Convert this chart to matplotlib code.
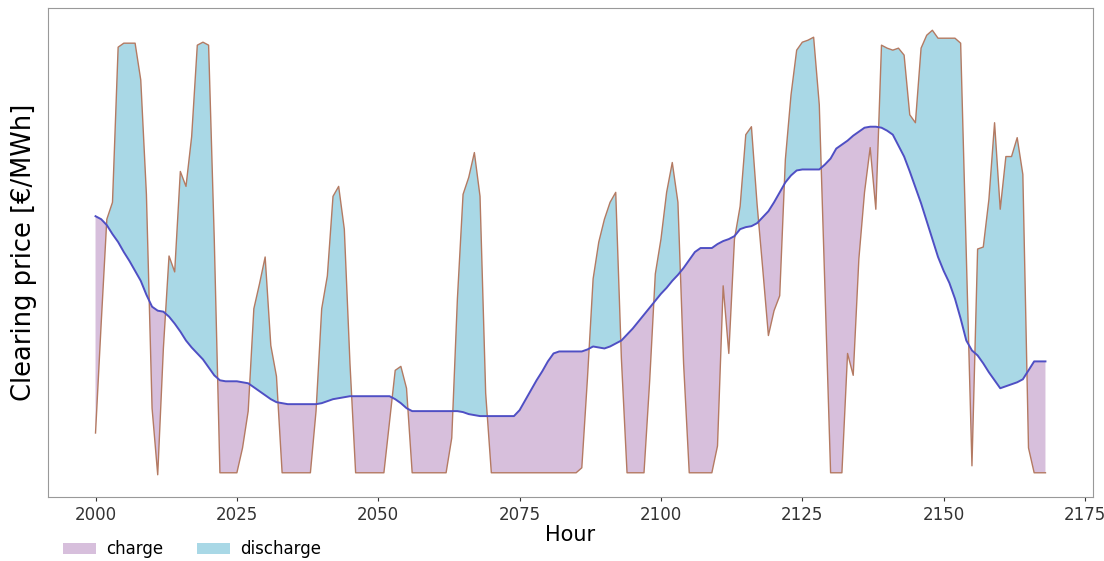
"""Clearing price vs. moving threshold, shaded by charge / discharge hours."""

import matplotlib

matplotlib.use("Agg")

import matplotlib.pyplot as plt
import numpy as np

HOUR_START = 2000
HOUR_END = 2168

# hourly clearing price (no y scale shown)
PRICE = [
    65, 175, 280, 297, 453, 457, 457, 457, 420, 305,
    90, 23, 150, 243, 227, 328, 313, 363, 455, 458,
    455, 260, 25, 25, 25, 25, 50, 87, 190, 215,
    242, 153, 122, 25, 25, 25, 25, 25, 25, 87,
    190, 223, 303, 313, 270, 135, 25, 25, 25, 25,
    25, 25, 76, 128, 132, 110, 25, 25, 25, 25,
    25, 25, 25, 60, 200, 305, 322, 347, 303, 105,
    25, 25, 25, 25, 25, 25, 25, 25, 25, 25,
    25, 25, 25, 25, 25, 25, 30, 120, 220, 257,
    280, 297, 307, 140, 25, 25, 25, 25, 117, 225,
    260, 307, 337, 297, 135, 25, 25, 25, 25, 25,
    52, 213, 145, 260, 293, 365, 373, 295, 230, 163,
    188, 203, 340, 405, 450, 458, 460, 463, 395, 210,
    25, 25, 25, 145, 123, 240, 307, 352, 290, 455,
    452, 450, 452, 445, 385, 377, 452, 465, 470, 462,
    462, 462, 462, 457, 245, 32, 250, 252, 300, 377,
    290, 343, 343, 362, 325, 50, 25, 25, 25,
]

# smoothed threshold price (blue line)
THRESHOLD = [
    283, 280, 274, 265, 257, 247, 238, 228, 218, 204,
    192, 188, 187, 182, 175, 167, 158, 151, 145, 139,
    131, 123, 118, 117, 117, 117, 116, 115, 111, 107,
    103, 99, 96, 95, 94, 94, 94, 94, 94, 94,
    95, 97, 99, 100, 101, 102, 102, 102, 102, 102,
    102, 102, 102, 99, 95, 90, 87, 87, 87, 87,
    87, 87, 87, 87, 87, 86, 84, 83, 82, 82,
    82, 82, 82, 82, 82, 88, 98, 108, 118, 127,
    137, 145, 147, 147, 147, 147, 147, 149, 152, 151,
    150, 152, 155, 158, 164, 170, 177, 184, 191, 198,
    205, 211, 218, 224, 231, 239, 247, 251, 251, 251,
    255, 258, 260, 263, 270, 272, 273, 276, 282, 288,
    297, 307, 317, 324, 329, 330, 330, 330, 330, 335,
    341, 351, 355, 359, 364, 368, 372, 373, 373, 372,
    369, 365, 354, 343, 328, 312, 296, 278, 260, 242,
    228, 216, 200, 180, 158, 148, 143, 135, 126, 118,
    110, 112, 114, 116, 119, 128, 137, 137, 137,
]

CHARGE_COLOR = "#d7bfdc"
DISCHARGE_COLOR = "#a9d8e6"
PRICE_COLOR = "#b47a62"
THRESHOLD_COLOR = "#4f4fc4"


def main() -> None:
    hours = np.arange(HOUR_START, HOUR_END + 1)
    price = np.array(PRICE, dtype=float)
    threshold = np.array(THRESHOLD, dtype=float)
    assert len(price) == len(hours) == len(threshold)

    fig = plt.figure(figsize=(11.04, 5.61), dpi=100)
    ax = fig.add_axes([0.0435, 0.1141, 0.9465, 0.8716])

    ax.fill_between(hours, price, threshold, where=price <= threshold,
                    interpolate=True, color=CHARGE_COLOR, linewidth=0, label="charge")
    ax.fill_between(hours, price, threshold, where=price >= threshold,
                    interpolate=True, color=DISCHARGE_COLOR, linewidth=0, label="discharge")
    ax.plot(hours, price, color=PRICE_COLOR, linewidth=1.0)
    ax.plot(hours, threshold, color=THRESHOLD_COLOR, linewidth=1.4)

    ax.set_yticks([])
    ax.set_xticks([2000, 2025, 2050, 2075, 2100, 2125, 2150, 2175])
    ax.tick_params(axis="x", labelsize=12, colors="#333333", length=3)
    for spine in ax.spines.values():
        spine.set_color("#999999")

    ax.set_xlabel("Hour", fontsize=15, labelpad=1)
    ax.set_ylabel("Clearing price [€/MWh]", fontsize=18.5, labelpad=8)

    fig.legend(loc="center left", bbox_to_anchor=(0.045, 0.021), ncol=2,
               frameon=False, fontsize=12, handlelength=2.0,
               handletextpad=0.6, columnspacing=2.0, borderpad=0.3)

    fig.savefig("out.png", dpi=100)
    plt.close(fig)


if __name__ == "__main__":
    main()
